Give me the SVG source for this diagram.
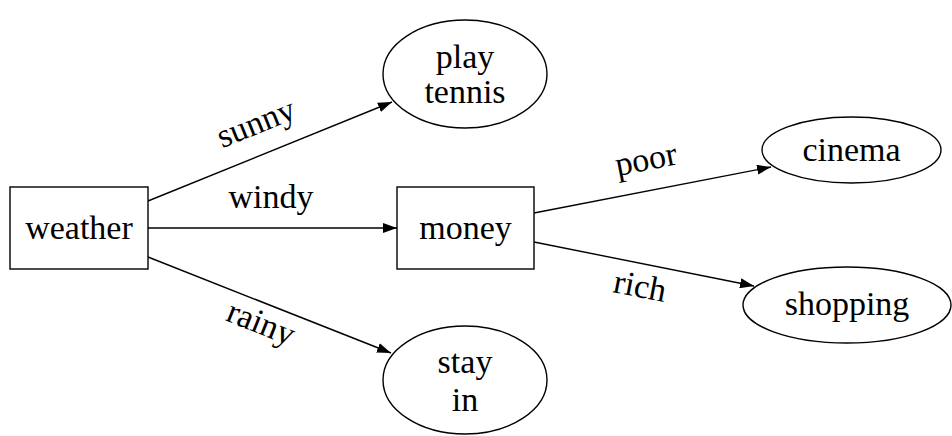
<svg xmlns="http://www.w3.org/2000/svg" width="952" height="436" viewBox="0 0 952 436" font-family="Liberation Serif">
  <style>
    .node { fill: #fff; stroke: #000; stroke-width: 1.4; }
    .edge { fill: none; stroke: #000; stroke-width: 1.4; marker-end: url(#arrow); }
    .t { font-size: 34px; fill: #000; text-anchor: middle; }
  </style>
  <defs>
    <marker id="arrow" viewBox="0 0 14 10" refX="14" refY="5" markerWidth="14" markerHeight="10" markerUnits="userSpaceOnUse" orient="auto">
      <path d="M0,0 L14,5 L0,10 Z" fill="#000"/>
    </marker>
  </defs>

  <rect width="952" height="436" fill="#fff"/>

  <g id="connectors">
    <line class="edge" x1="148" y1="201" x2="392" y2="102"/>
    <line class="edge" x1="148" y1="228" x2="397" y2="228"/>
    <line class="edge" x1="148" y1="257" x2="391" y2="353"/>
    <line class="edge" x1="534" y1="213" x2="771" y2="167"/>
    <line class="edge" x1="534" y1="242" x2="754" y2="286"/>
    <text class="t" style="font-family: 'Liberation Serif', serif" transform="translate(260,133) rotate(-22)">sunny</text>
    <text class="t" style="font-family: 'Liberation Serif', serif" x="271" y="208">windy</text>
    <text class="t" style="font-family: 'Liberation Serif', serif" transform="translate(257,333) rotate(22)">rainy</text>
    <text class="t" style="font-family: 'Liberation Serif', serif" transform="translate(648,170) rotate(-11)">poor</text>
    <text class="t" style="font-family: 'Liberation Serif', serif" transform="translate(638,297) rotate(11)">rich</text>
  </g>

  <g id="weather">
    <rect class="node" x="10" y="187" width="138" height="82"/>
    <text class="t" style="font-family: 'Liberation Serif', serif" x="79" y="239">weather</text>
  </g>

  <g id="money">
    <rect class="node" x="397" y="187" width="137" height="82"/>
    <text class="t" style="font-family: 'Liberation Serif', serif" x="465.5" y="239">money</text>
  </g>

  <g id="play-tennis">
    <ellipse class="node" cx="465" cy="74" rx="82" ry="54"/>
    <text class="t" style="font-family: 'Liberation Serif', serif" x="465" y="68">play</text>
    <text class="t" style="font-family: 'Liberation Serif', serif" x="465" y="103">tennis</text>
  </g>

  <g id="stay-in">
    <ellipse class="node" cx="465" cy="380" rx="82" ry="54"/>
    <text class="t" style="font-family: 'Liberation Serif', serif" x="465" y="373">stay</text>
    <text class="t" style="font-family: 'Liberation Serif', serif" x="465" y="411">in</text>
  </g>

  <g id="cinema">
    <ellipse class="node" cx="851.5" cy="150" rx="89.5" ry="33"/>
    <text class="t" style="font-family: 'Liberation Serif', serif" x="851.5" y="161">cinema</text>
  </g>

  <g id="shopping">
    <ellipse class="node" cx="847" cy="305" rx="104" ry="38"/>
    <text class="t" style="font-family: 'Liberation Serif', serif" x="847" y="315">shopping</text>
  </g>
</svg>
